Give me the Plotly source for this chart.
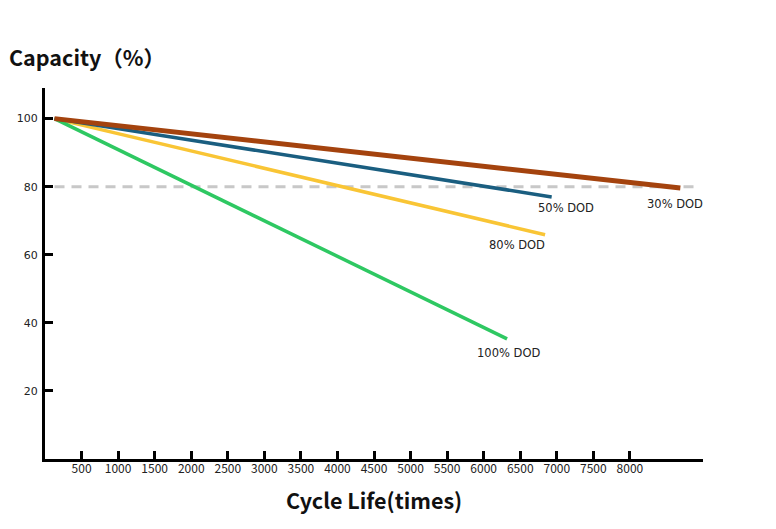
import plotly.graph_objects as go

# Data
series_names = ["30% DOD", "50% DOD", "80% DOD", "100% DOD"]
series_cycles = [[130, 8690], [130, 6930], [130, 6840], [130, 6320]]
series_capacity = [[100, 79.6], [100, 77.0], [100, 65.9], [100, 35.3]]
series_colors = ["#A4430E", "#1A5E80", "#F9C535", "#2EC862"]
series_widths = [5, 3.5, 3.5, 3.5]
label_x = [8618, 7127, 6457, 6334]
label_y = [75.0, 73.8, 62.9, 31.2]
x_ticks = [500, 1000, 1500, 2000, 2500, 3000, 3500, 4000, 4500, 5000, 5500, 6000, 6500, 7000, 7500, 8000]
y_ticks = [20, 40, 60, 80, 100]
threshold = 80

fig = go.Figure()

fig.add_shape(type="line", x0=130, x1=8950, y0=threshold, y1=threshold,
              xref="x", yref="y", line=dict(color="#C8C8C8", width=3, dash="10px,7px"), layer="below")

order = [2, 3, 1, 0]
for i in order:
    fig.add_trace(go.Scatter(x=series_cycles[i], y=series_capacity[i], mode="lines",
                             line=dict(color=series_colors[i], width=series_widths[i]),
                             name=series_names[i], showlegend=False, hoverinfo="skip"))

for i, name in enumerate(series_names):
    fig.add_annotation(x=label_x[i], y=label_y[i], text=name, showarrow=False,
                       font=dict(family="DejaVu Sans", size=11.5, color="#222222"),
                       xanchor="center", yanchor="middle")

fig.add_annotation(xref="paper", yref="paper", x=-0.0575, y=1.0836, text="<b>Capacity（%）</b>",
                   showarrow=False, xanchor="left", yanchor="middle",
                   font=dict(family="Noto Sans CJK SC", size=21.5, color="#111111"))
fig.add_annotation(xref="paper", yref="paper", x=0.5, y=-0.1105, text="<b>Cycle Life(times)</b>",
                   showarrow=False, xanchor="center", yanchor="middle",
                   font=dict(family="Noto Sans CJK SC", size=21.5, color="#111111"))

fig.update_layout(
    width=768, height=521,
    margin=dict(l=37, r=73, t=80, b=70, autoexpand=False),
    paper_bgcolor="white", plot_bgcolor="white",
    showlegend=False,
    xaxis=dict(range=[0, 9000], tickvals=x_ticks, ticktext=[str(v) for v in x_ticks],
               ticks="inside", ticklen=8, tickwidth=3, tickcolor="black",
               showline=True, linecolor="black", linewidth=3, showgrid=False, zeroline=False,
               automargin=False, ticklabelstandoff=-3,
               tickfont=dict(family="Noto Sans CJK SC", size=12, color="#222222")),
    yaxis=dict(range=[0, 109], tickvals=y_ticks, ticktext=[str(v) for v in y_ticks],
               ticks="inside", ticklen=8, tickwidth=3, tickcolor="black",
               showline=True, linecolor="black", linewidth=3, showgrid=False, zeroline=False,
               automargin=False, ticklabelstandoff=2,
               tickfont=dict(family="DejaVu Sans", size=11, color="#222222")),
)

fig.write_html("out.html")
